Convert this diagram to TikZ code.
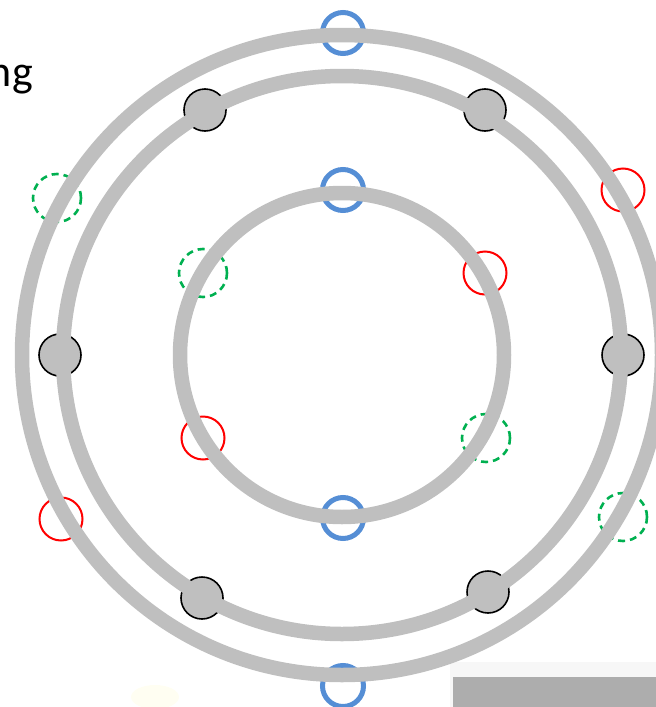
\documentclass[tikz,border=0pt]{standalone}
\usepackage{fontspec}
\setmainfont{Carlito}
\definecolor{ringgray}{HTML}{BFBFBF}
\definecolor{mblue}{HTML}{558ED5}
\definecolor{mred}{HTML}{FF0000}
\definecolor{mgreen}{HTML}{00B050}
\begin{document}
\begin{tikzpicture}[x=1pt,y=-1pt,
  ring/.style={draw=ringgray,line width=14.5pt},
  bluec/.style={circle,draw=mblue,line width=5pt,minimum size=41pt,inner sep=0pt},
  greyc/.style={circle,draw=black,fill=ringgray,line width=1.6pt,minimum size=42pt,inner sep=0pt},
  redc/.style={circle,draw=mred,line width=2pt,minimum size=43pt,inner sep=0pt},
  greenc/.style={circle,draw=mgreen,line width=2.6pt,dash pattern=on 7pt off 5pt,minimum size=48pt,inner sep=0pt}]
\useasboundingbox (0,0) rectangle (656,707);
% background artifacts at the bottom
\fill[white!97!black] (450,662) rectangle (656,707);
\fill[gray!64] (453,677) rectangle (656,707);
\fill[yellow!5] (155,697) ellipse (24pt and 12pt);
% title fragment
\node[anchor=base east,font=\fontsize{44}{50}\selectfont,inner sep=0pt] (title) at (33,86) {ng};
% blue markers
\node[bluec] (b1) at (343,33) {};
\node[bluec] (b2) at (343,190) {};
\node[bluec] (b3) at (343,518) {};
\node[bluec] (b4) at (343,686) {};
% grey filled markers
\node[greyc] (g1) at (60,355) {};
\node[greyc] (g2) at (623,355) {};
\node[greyc] (g3) at (205,110) {};
\node[greyc] (g4) at (485,110) {};
\node[greyc] (g5) at (202,598) {};
\node[greyc] (g6) at (488,592) {};
% red markers
\node[redc] (r1) at (623,190) {};
\node[redc] (r2) at (485,273) {};
\node[redc] (r3) at (203,438) {};
\node[redc] (r4) at (61,519) {};
% green dashed markers
\node[greenc] (e1) at (57,198) {};
\node[greenc] (e2) at (203,273) {};
\node[greenc] (e3) at (486,438) {};
\node[greenc] (e4) at (623,517) {};
% rings
\coordinate (c) at (342,355);
\draw[ring] (c) circle[radius=320pt];
\draw[ring] (c) circle[radius=279pt];
\draw[ring] (c) circle[radius=162pt];
\end{tikzpicture}
\end{document}
